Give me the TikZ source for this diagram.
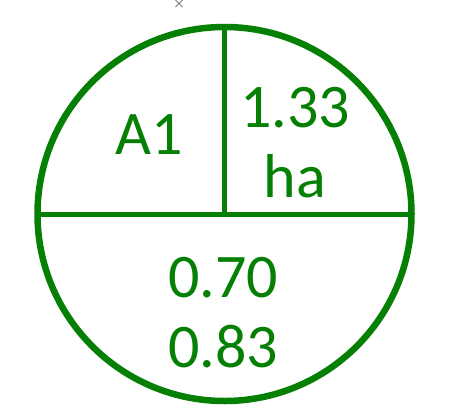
\documentclass[tikz,border=0pt]{standalone}
\usepackage{fontspec}
\setmainfont{Carlito}
\usepackage{tikz}
\usetikzlibrary{calc}
\definecolor{plotgreen}{RGB}{5,128,5}
\definecolor{markgray}{RGB}{128,128,128}

\begin{document}
\begin{tikzpicture}[x=1pt, y=-1pt,
  every node/.style={text=plotgreen, inner sep=0pt, anchor=base,
    font=\fontsize{62}{70}\selectfont}]
  \useasboundingbox (0,0) rectangle (449,416);
  % field circle split into three parts
  \node[circle, draw=plotgreen, line width=6.5pt, minimum size=374pt, outer sep=0pt,
    anchor=center] (field) at (224.5,214) {};
  \draw[plotgreen, line width=5pt] (field.west) -- (field.east);
  \draw[plotgreen, line width=5pt] (field.north) -- (field.center);
  % labels
  \node (name) at (149.5,154) {A1};
  \node (area) at (295,127) {1.33};
  \node (unit) at (295,197) {ha};
  \node (valA) at (223,297) {0.70};
  \node (valB) at (223,367) {0.83};
  % small mark above
  \coordinate (mark) at (179,3.5);
  \draw[markgray, line width=1pt] ($(mark)+(-3.5,-3.5)$) -- ($(mark)+(3.5,3.5)$)
    ($(mark)+(-3.5,3.5)$) -- ($(mark)+(3.5,-3.5)$);
\end{tikzpicture}
\end{document}
